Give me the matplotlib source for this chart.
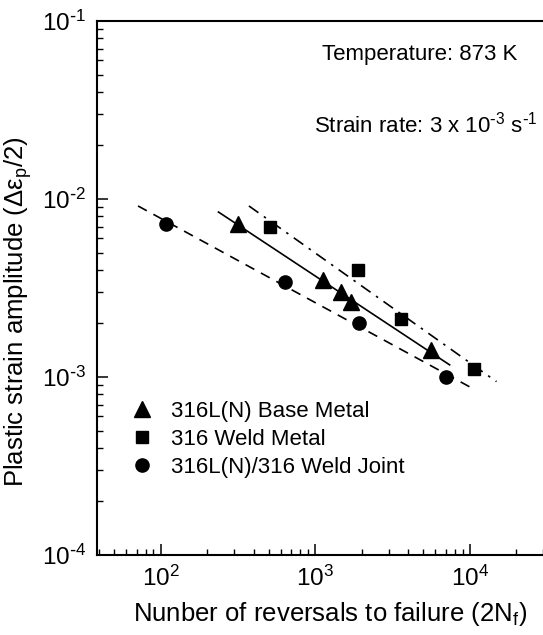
import matplotlib
matplotlib.use('Agg')
import matplotlib.pyplot as plt
import numpy as np
from matplotlib.ticker import FuncFormatter

plt.rcParams['font.family'] = ['Liberation Sans', 'DejaVu Sans']
plt.rcParams['mathtext.default'] = 'regular'

# data
base_n = [316, 1125, 1472, 1707, 5585]
base_eps = [7.28e-3, 3.52e-3, 3.02e-3, 2.64e-3, 1.42e-3]

weld_n = [507, 1892, 3606, 10640]
weld_eps = [6.96e-3, 3.99e-3, 2.11e-3, 1.11e-3]

joint_n = [109, 641, 1936, 7050]
joint_eps = [7.24e-3, 3.40e-3, 2.00e-3, 1.00e-3]

# fitted lines (end points)
base_fit_n = [237, 7413]
base_fit_eps = [8.45e-3, 1.17e-3]
weld_fit_n = [373, 14900]
weld_fit_eps = [9.14e-3, 9.42e-4]
joint_fit_n = [71.5, 10120]
joint_fit_eps = [9.14e-3, 8.75e-4]

W, H = 543, 635
fig = plt.figure(figsize=(W / 100, H / 100), dpi=100)
ax = fig.add_axes([97.3 / W, 80 / H, (562.8 - 97.3) / W, 534 / H])

ax.plot(base_fit_n, base_fit_eps, color='black', lw=1.2, ls='-')
ax.plot(weld_fit_n, weld_fit_eps, color='black', lw=1.2, ls=(0, (7, 4, 1.5, 4)))
ax.plot(joint_fit_n, joint_fit_eps, color='black', lw=1.2, ls=(0, (6, 4.5)))

ax.plot(base_n, base_eps, '^', color='black', ms=11, ls='none', label='316L(N) Base Metal')
ax.plot(weld_n, weld_eps, 's', color='black', ms=9, ls='none', label='316 Weld Metal')
ax.plot(joint_n, joint_eps, 'o', color='black', ms=9.5, ls='none', label='316L(N)/316 Weld Joint')

ax.set_xscale('log')
ax.set_yscale('log')
ax.set_xlim(39, 4e4)
ax.set_ylim(1e-4, 1e-1)


def pow_label(v, pos):
    e = int(round(np.log10(v)))
    if e < 0:
        return r'10$^{\text{-}%d}$' % (-e)
    return r'10$^{%d}$' % e


ax.xaxis.set_major_formatter(FuncFormatter(pow_label))
ax.yaxis.set_major_formatter(FuncFormatter(pow_label))

for s in ax.spines.values():
    s.set_linewidth(1.5)
ax.tick_params(which='major', direction='in', length=8, width=1.1, labelsize=17.5, pad=8)
ax.tick_params(which='minor', direction='in', length=4, width=1.0)
ax.tick_params(axis='x', which='both', top=False)
ax.tick_params(axis='y', which='both', right=False)

ax.set_xlabel('Nunber of reversals to failure (2N$_f$)', fontsize=18.5, labelpad=6)
ax.set_ylabel('Plastic strain amplitude (Δε$_p$/2)', fontsize=18.5)
ax.yaxis.set_label_coords(-0.135, 0.455)

fig.text(322 / W, 1 - 60 / H, 'Temperature: 873 K', fontsize=16, va='baseline', ha='left')
fig.text(314 / W, 1 - 133 / H, r'Strain rate: 3 x 10$^{\text{-}3}$ s$^{\text{-}1}$', fontsize=16,
         va='baseline', ha='left')

ax.legend(loc='upper left', bbox_to_anchor=(0.05, 0.305), frameon=False, fontsize=16,
          handletextpad=0.75, labelspacing=0.32, handlelength=1.1, borderaxespad=0)

fig.savefig('out.png', dpi=100)
